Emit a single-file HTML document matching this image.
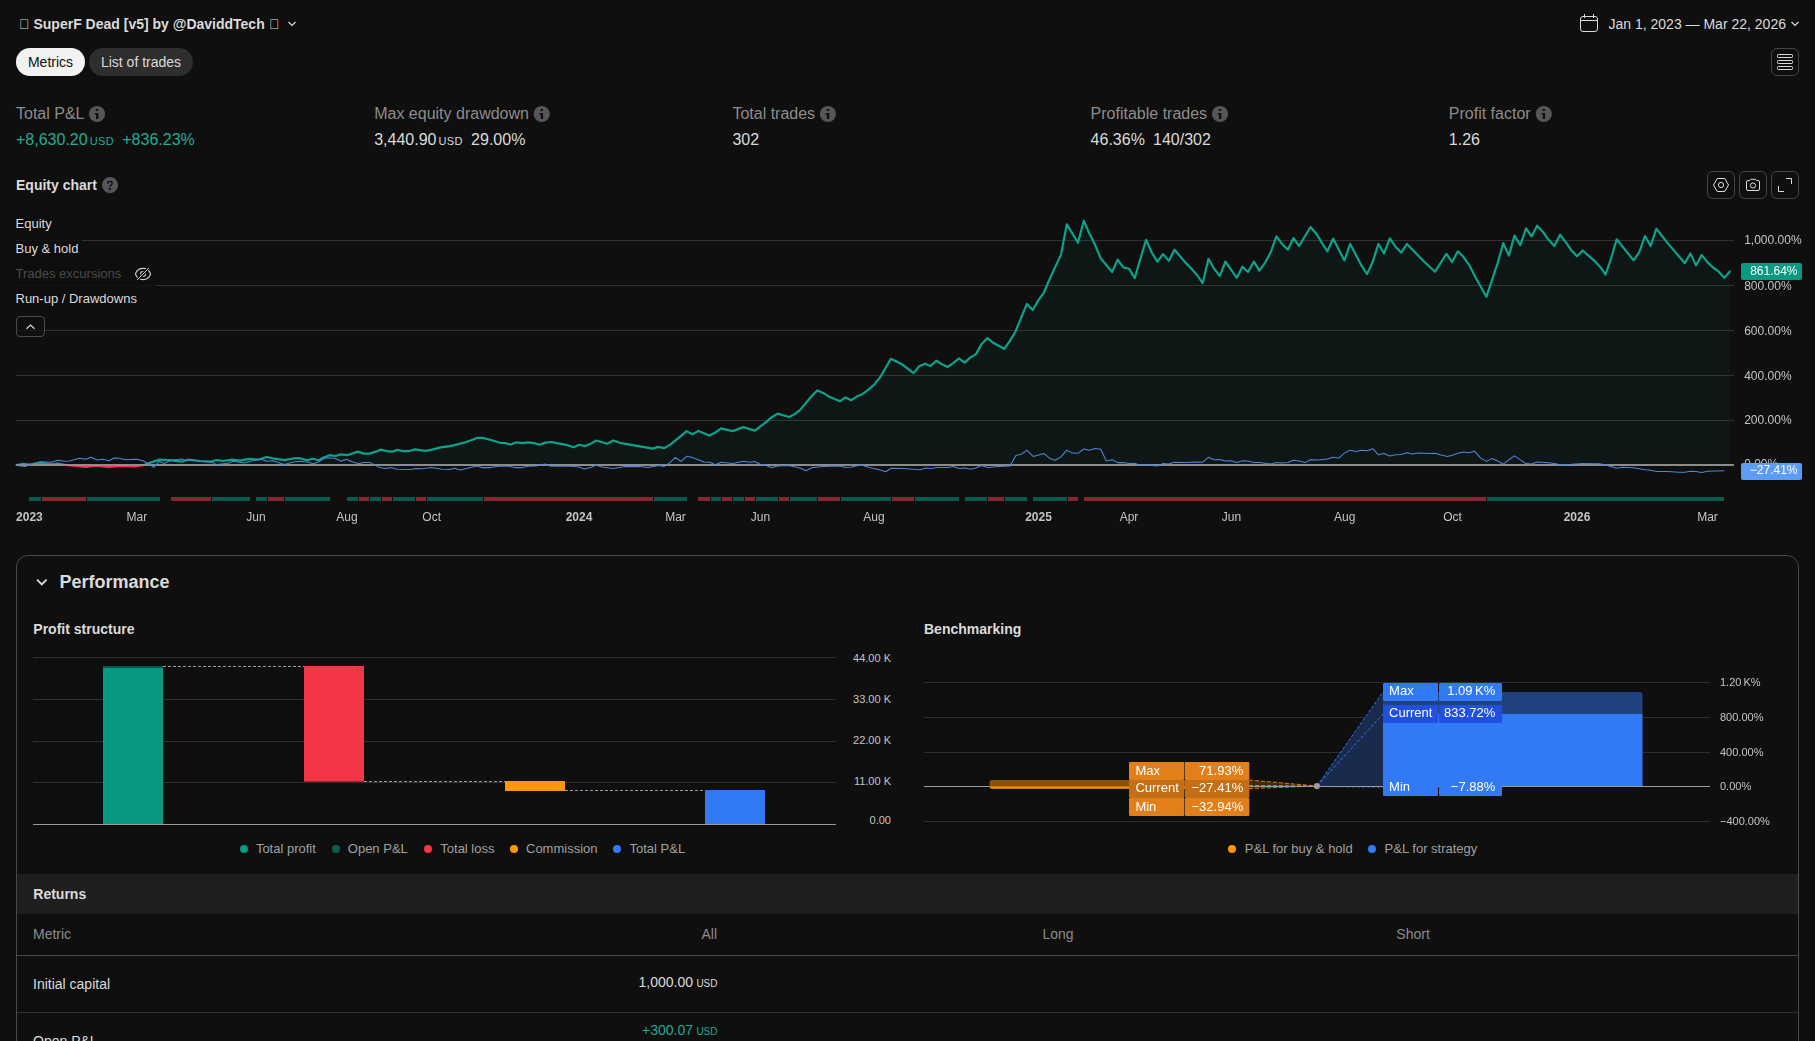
<!DOCTYPE html>
<html><head><meta charset="utf-8"><title>Strategy report</title>
<style>
html,body{margin:0;padding:0;background:#0f0f0f;}
body{width:1815px;height:1041px;overflow:hidden;position:relative;font-family:"Liberation Sans",sans-serif;color:#dbdbdb;}
.t{position:absolute;white-space:nowrap;}
.abs{position:absolute;}
.g{position:absolute;left:0;top:0;width:1815px;height:1041px;will-change:transform;}
svg{position:absolute;left:0;top:0;overflow:visible;}
.pill{position:absolute;top:48px;height:28px;border-radius:14px;font-size:14px;line-height:28px;text-align:center;}
.ib{position:absolute;width:26px;height:26px;border:1px solid #434343;border-radius:6px;}
.usd{font-size:11px;margin-left:2px;letter-spacing:0.4px;}
.usd2{font-size:10px;margin-left:3.4px;}
</style></head><body>

<div class="t" style="top:15.0px;font-size:14px;line-height:18px;color:#dbdbdb;font-weight:700;left:19.1px;">&#xE000; SuperF Dead [v5] by @DaviddTech</div>
<div class="t" style="top:15.0px;font-size:14px;line-height:18px;color:#dbdbdb;font-weight:700;left:269px;">&#xE000;</div>
<div class="pill" style="left:16px;width:69px;background:#f2f2f2;color:#0f0f0f;">Metrics</div>
<div class="pill" style="left:89px;width:104px;background:#2e2e2e;color:#dbdbdb;">List of trades</div>
<div class="t" style="top:15.0px;font-size:14px;line-height:18px;color:#dbdbdb;left:1608.5px;">Jan 1, 2023 — Mar 22, 2026</div>
<div class="ib" style="left:1771px;top:48px;"></div>
<svg width="1815" height="1041" viewBox="0 0 1815 1041" fill="none">
<path d="M288.5 22 L292 25.5 L295.5 22" stroke="#dbdbdb" stroke-width="1.2"/>
<path d="M1791.5 22 L1795 25.5 L1798.5 22" stroke="#dbdbdb" stroke-width="1.2"/>
<rect x="1580.5" y="16.5" width="17" height="15" rx="2.5" stroke="#dbdbdb"/>
<path d="M1580.5 20.5H1597.5M1584.5 14V18M1593.5 14V18" stroke="#dbdbdb"/>
<rect x="1777.5" y="54.5" width="15" height="3" rx="0.8" stroke="#dbdbdb"/>
<rect x="1777.5" y="60.5" width="15" height="3" rx="0.8" stroke="#dbdbdb"/>
<rect x="1777.5" y="66.5" width="15" height="3" rx="0.8" stroke="#dbdbdb"/>
<path d="M1713.5 185 L1717.2 178.5 H1724.8 L1728.5 185 L1724.8 191.5 H1717.2 Z" stroke="#dbdbdb" stroke-linejoin="round"/>
<circle cx="1721" cy="185" r="2.6" stroke="#dbdbdb"/>
<path d="M1746.5 182 a1.5 1.5 0 0 1 1.5 -1.5 H1749.6 L1750.6 179.3 H1755.4 L1756.4 180.5 H1758 a1.5 1.5 0 0 1 1.5 1.5 V189 a1.5 1.5 0 0 1 -1.5 1.5 H1748 a1.5 1.5 0 0 1 -1.5 -1.5 Z" stroke="#dbdbdb" stroke-linejoin="round"/>
<circle cx="1753" cy="185.5" r="2.6" stroke="#dbdbdb"/>
<path d="M1786 178.5 H1791.5 V184 M1778.5 186 V191.5 H1784" stroke="#dbdbdb"/>
<circle cx="97.0" cy="113.95" r="8.05" fill="#565656"/>
<rect x="95.85" y="108.90" width="2.4" height="2.05" rx="0.5" fill="#0f0f0f"/>
<path d="M94.80 113.10 H98.35 V119.05 H96.05 V114.45 H94.80 Z" fill="#0f0f0f"/>
<circle cx="541.7" cy="113.95" r="8.05" fill="#565656"/>
<rect x="540.55" y="108.90" width="2.4" height="2.05" rx="0.5" fill="#0f0f0f"/>
<path d="M539.50 113.10 H543.05 V119.05 H540.75 V114.45 H539.50 Z" fill="#0f0f0f"/>
<circle cx="827.9" cy="113.95" r="8.05" fill="#565656"/>
<rect x="826.75" y="108.90" width="2.4" height="2.05" rx="0.5" fill="#0f0f0f"/>
<path d="M825.70 113.10 H829.25 V119.05 H826.95 V114.45 H825.70 Z" fill="#0f0f0f"/>
<circle cx="1220" cy="113.95" r="8.05" fill="#565656"/>
<rect x="1218.85" y="108.90" width="2.4" height="2.05" rx="0.5" fill="#0f0f0f"/>
<path d="M1217.80 113.10 H1221.35 V119.05 H1219.05 V114.45 H1217.80 Z" fill="#0f0f0f"/>
<circle cx="1543.8" cy="113.95" r="8.05" fill="#565656"/>
<rect x="1542.65" y="108.90" width="2.4" height="2.05" rx="0.5" fill="#0f0f0f"/>
<path d="M1541.60 113.10 H1545.15 V119.05 H1542.85 V114.45 H1541.60 Z" fill="#0f0f0f"/>
<circle cx="110" cy="185.1" r="8.05" fill="#565656"/>
<path d="M107.7 183.7 C107.7 182 108.7 181.4 110 181.4 C111.4 181.4 112.2 182.1 112.2 183.2 C112.2 184.4 111.4 184.8 110.7 185.5 C110 186.1 109.85 186.5 109.85 187.1" stroke="#0f0f0f" stroke-width="1.35" fill="none"/>
<rect x="108.8" y="188.1" width="2.1" height="1.9" rx="0.3" fill="#0f0f0f"/>
</svg>
<div class="t" style="top:103.5px;font-size:16px;line-height:20px;color:#8c8c8c;left:16px;">Total P&amp;L</div>
<div class="t" style="top:103.5px;font-size:16px;line-height:20px;color:#8c8c8c;left:374.2px;">Max equity drawdown</div>
<div class="t" style="top:103.5px;font-size:16px;line-height:20px;color:#8c8c8c;left:732.4px;">Total trades</div>
<div class="t" style="top:103.5px;font-size:16px;line-height:20px;color:#8c8c8c;left:1090.6px;">Profitable trades</div>
<div class="t" style="top:103.5px;font-size:16px;line-height:20px;color:#8c8c8c;left:1448.8px;">Profit factor</div>
<div class="t" style="top:130.0px;font-size:16px;line-height:20px;color:#22ab94;left:16px;">+8,630.20<span class="usd">USD</span><span style="margin-left:8.2px">+836.23%</span></div>
<div class="t" style="top:130.0px;font-size:16px;line-height:20px;color:#dbdbdb;left:374.2px;">3,440.90<span class="usd">USD</span><span style="margin-left:8.2px">29.00%</span></div>
<div class="t" style="top:130.0px;font-size:16px;line-height:20px;color:#dbdbdb;left:732.4px;">302</div>
<div class="t" style="top:130.0px;font-size:16px;line-height:20px;color:#dbdbdb;left:1090.6px;">46.36%<span style="margin-left:8.2px">140/302</span></div>
<div class="t" style="top:130.0px;font-size:16px;line-height:20px;color:#dbdbdb;left:1448.8px;">1.26</div>
<div class="t" style="top:176.0px;font-size:14px;line-height:18px;color:#dbdbdb;font-weight:700;left:16px;">Equity chart</div>
<div class="ib" style="left:1707px;top:171px;"></div>
<div class="ib" style="left:1739px;top:171px;"></div>
<div class="ib" style="left:1771px;top:171px;"></div>
<svg width="1815" height="1041" viewBox="0 0 1815 1041">
<rect x="16" y="240" width="1718" height="1" fill="#313131"/>
<rect x="16" y="285" width="1718" height="1" fill="#313131"/>
<rect x="16" y="330" width="1718" height="1" fill="#313131"/>
<rect x="16" y="375" width="1718" height="1" fill="#313131"/>
<rect x="16" y="420" width="1718" height="1" fill="#313131"/>
<path d="M16.6,465 L16.6,465 L23.2,463.8 L29.8,464.6 L39.8,462.6 L51.3,464.3 L57.9,463.5 L66,465 L86,466.8 L96,465.6 L109,466.8 L122,466 L135,466.4 L143.9,465 L150.5,462.6 L158.8,459.7 L168.7,460.2 L181.9,461.7 L187.7,459.7 L200,461 L210.8,461.7 L216.6,460 L223.2,461 L232.3,459.7 L239.8,460.7 L249.7,458.8 L257.9,459.7 L266.7,457 L274.5,458.7 L284.4,460.2 L295.9,458 L300,458.3 L307.4,460.2 L312.4,458.7 L319,460.2 L323.1,457.7 L329.8,455.2 L335.5,456 L340.5,454.4 L347.1,455.2 L357.9,451.6 L363.6,453.6 L369.4,453.6 L375.2,451.9 L381,449.6 L386.8,451.2 L391.7,451.7 L397.5,449.9 L403.3,451.2 L408.3,451.2 L414.9,449.4 L420,450.1 L425.6,450.9 L432.2,449.6 L440.5,447.4 L449.6,446.1 L454.5,445.1 L465.3,442.3 L471.1,440.2 L476.9,437.9 L482.6,437.9 L490.1,439.8 L500,442.8 L505,443.1 L510.7,444.5 L516.5,442.3 L522.3,443.1 L528.1,442.3 L534,443.1 L539.7,444.8 L545.5,442.6 L551.2,442 L557,443.1 L566.1,444.8 L573.6,447.3 L579.3,444.8 L585.1,446.1 L590,444.1 L596.3,440.5 L607.4,443.8 L613.1,440.5 L619.8,442.8 L652.8,448.6 L658.1,446.9 L664.4,448.1 L671,444.1 L686.7,431.1 L692.5,434.4 L698.3,430.9 L709.5,435.4 L715.3,432.6 L721.1,428.4 L732.5,431.1 L743.4,427.1 L754.8,430.6 L766,422.1 L771.8,417.2 L777.6,413.6 L789.2,417 L795,413.9 L799.9,410.1 L811.5,396.2 L817.4,390.4 L823.1,392.9 L828.8,396.5 L839.9,401.3 L845.5,397.4 L851.2,400.3 L857.4,396.2 L862.7,393.9 L868.5,389.6 L874.3,384.6 L880.1,377.2 L890.9,358.8 L902.3,364.5 L913.6,373.1 L919.2,366.2 L925,363.7 L930.6,365.9 L936.2,360.7 L942,364.2 L947.6,367 L953.2,363.2 L959,358.4 L964.6,362.6 L970.4,357.4 L976,354.1 L981.7,343.9 L987.4,338.1 L993.1,342.7 L1004.3,348.8 L1010.1,340.6 L1015.5,331.5 L1021.3,317.4 L1026.9,303.9 L1032.7,310 L1038.3,300.4 L1044,292.3 L1049.8,278.6 L1061,254.6 L1066.8,224.4 L1078,242.7 L1083.8,220.7 L1089.4,233.6 L1095,244.7 L1100.7,258.3 L1112.1,272 L1117.7,259.6 L1123.3,267.4 L1129.1,268.8 L1134.7,278.1 L1146.1,239.8 L1151.7,252.5 L1157.4,261.6 L1163.1,254.1 L1168.8,260.9 L1174.5,249.7 L1185.7,262.9 L1191.5,268.7 L1197.3,275.3 L1202.7,283.1 L1208.5,258.8 L1214.1,268.7 L1219.8,276.1 L1225.4,261.6 L1231.2,269.8 L1236.8,277.8 L1242.4,266.7 L1248,272 L1253.8,261.7 L1259.4,270.7 L1265.2,262.6 L1270.8,252.1 L1276.4,236.4 L1282.2,244.2 L1287.9,249.7 L1293.5,238.1 L1299.1,246 L1310.5,227 L1316.9,234.5 L1321.7,242.6 L1327.4,251.3 L1333.1,238.6 L1344.4,260.4 L1350.2,243.9 L1361.4,265.4 L1367,274.1 L1372.8,261.7 L1378.4,243.9 L1384,253.5 L1389.8,238.4 L1395.5,246.7 L1401.1,252.6 L1406.9,244 L1423.7,261.2 L1429.5,266.7 L1435.1,271.7 L1446.4,253.8 L1452.1,262.1 L1457.8,251.3 L1463.4,256.8 L1469.9,266.2 L1475.7,277.8 L1486.4,296.8 L1497.7,262.9 L1503.3,243.1 L1508.9,255.5 L1514.5,235.6 L1520.3,245.2 L1526,228.5 L1531.6,236.4 L1537.2,225.7 L1543,232 L1548.6,239.8 L1554.4,246 L1560,234.8 L1565.8,242.2 L1571.2,250.2 L1577,256.3 L1582.6,250.5 L1593.9,260.4 L1599.7,266.2 L1605.5,274.5 L1611.1,258.4 L1616.7,239.3 L1633.6,260.4 L1639.3,252.1 L1645,236 L1650.6,246 L1656.4,228.7 L1667.6,243.1 L1684.8,263.2 L1690.4,253.5 L1696,265.4 L1701.7,255 L1707.4,262.1 L1713.1,267.5 L1718.7,271.7 L1724.3,277.8 L1729.9,271.5 L1729.9,465 Z" fill="rgba(8,153,129,0.06)"/>
<clipPath id="ca"><rect x="0" y="200" width="1815" height="265"/></clipPath><clipPath id="cb"><rect x="0" y="465" width="1815" height="40"/></clipPath>
<polyline points="16.6,465 23.2,463.8 29.8,464.6 39.8,462.6 51.3,464.3 57.9,463.5 66,465 86,466.8 96,465.6 109,466.8 122,466 135,466.4 143.9,465 150.5,462.6 158.8,459.7 168.7,460.2 181.9,461.7 187.7,459.7 200,461 210.8,461.7 216.6,460 223.2,461 232.3,459.7 239.8,460.7 249.7,458.8 257.9,459.7 266.7,457 274.5,458.7 284.4,460.2 295.9,458 300,458.3 307.4,460.2 312.4,458.7 319,460.2 323.1,457.7 329.8,455.2 335.5,456 340.5,454.4 347.1,455.2 357.9,451.6 363.6,453.6 369.4,453.6 375.2,451.9 381,449.6 386.8,451.2 391.7,451.7 397.5,449.9 403.3,451.2 408.3,451.2 414.9,449.4 420,450.1 425.6,450.9 432.2,449.6 440.5,447.4 449.6,446.1 454.5,445.1 465.3,442.3 471.1,440.2 476.9,437.9 482.6,437.9 490.1,439.8 500,442.8 505,443.1 510.7,444.5 516.5,442.3 522.3,443.1 528.1,442.3 534,443.1 539.7,444.8 545.5,442.6 551.2,442 557,443.1 566.1,444.8 573.6,447.3 579.3,444.8 585.1,446.1 590,444.1 596.3,440.5 607.4,443.8 613.1,440.5 619.8,442.8 652.8,448.6 658.1,446.9 664.4,448.1 671,444.1 686.7,431.1 692.5,434.4 698.3,430.9 709.5,435.4 715.3,432.6 721.1,428.4 732.5,431.1 743.4,427.1 754.8,430.6 766,422.1 771.8,417.2 777.6,413.6 789.2,417 795,413.9 799.9,410.1 811.5,396.2 817.4,390.4 823.1,392.9 828.8,396.5 839.9,401.3 845.5,397.4 851.2,400.3 857.4,396.2 862.7,393.9 868.5,389.6 874.3,384.6 880.1,377.2 890.9,358.8 902.3,364.5 913.6,373.1 919.2,366.2 925,363.7 930.6,365.9 936.2,360.7 942,364.2 947.6,367 953.2,363.2 959,358.4 964.6,362.6 970.4,357.4 976,354.1 981.7,343.9 987.4,338.1 993.1,342.7 1004.3,348.8 1010.1,340.6 1015.5,331.5 1021.3,317.4 1026.9,303.9 1032.7,310 1038.3,300.4 1044,292.3 1049.8,278.6 1061,254.6 1066.8,224.4 1078,242.7 1083.8,220.7 1089.4,233.6 1095,244.7 1100.7,258.3 1112.1,272 1117.7,259.6 1123.3,267.4 1129.1,268.8 1134.7,278.1 1146.1,239.8 1151.7,252.5 1157.4,261.6 1163.1,254.1 1168.8,260.9 1174.5,249.7 1185.7,262.9 1191.5,268.7 1197.3,275.3 1202.7,283.1 1208.5,258.8 1214.1,268.7 1219.8,276.1 1225.4,261.6 1231.2,269.8 1236.8,277.8 1242.4,266.7 1248,272 1253.8,261.7 1259.4,270.7 1265.2,262.6 1270.8,252.1 1276.4,236.4 1282.2,244.2 1287.9,249.7 1293.5,238.1 1299.1,246 1310.5,227 1316.9,234.5 1321.7,242.6 1327.4,251.3 1333.1,238.6 1344.4,260.4 1350.2,243.9 1361.4,265.4 1367,274.1 1372.8,261.7 1378.4,243.9 1384,253.5 1389.8,238.4 1395.5,246.7 1401.1,252.6 1406.9,244 1423.7,261.2 1429.5,266.7 1435.1,271.7 1446.4,253.8 1452.1,262.1 1457.8,251.3 1463.4,256.8 1469.9,266.2 1475.7,277.8 1486.4,296.8 1497.7,262.9 1503.3,243.1 1508.9,255.5 1514.5,235.6 1520.3,245.2 1526,228.5 1531.6,236.4 1537.2,225.7 1543,232 1548.6,239.8 1554.4,246 1560,234.8 1565.8,242.2 1571.2,250.2 1577,256.3 1582.6,250.5 1593.9,260.4 1599.7,266.2 1605.5,274.5 1611.1,258.4 1616.7,239.3 1633.6,260.4 1639.3,252.1 1645,236 1650.6,246 1656.4,228.7 1667.6,243.1 1684.8,263.2 1690.4,253.5 1696,265.4 1701.7,255 1707.4,262.1 1713.1,267.5 1718.7,271.7 1724.3,277.8 1729.9,271.5" fill="none" stroke="#0ba38a" stroke-width="2.2" stroke-linejoin="round" stroke-linecap="round" clip-path="url(#ca)"/>
<polyline points="16.6,465 23.2,463.8 29.8,464.6 39.8,462.6 51.3,464.3 57.9,463.5 66,465 86,466.8 96,465.6 109,466.8 122,466 135,466.4 143.9,465 150.5,462.6 158.8,459.7 168.7,460.2 181.9,461.7 187.7,459.7 200,461 210.8,461.7 216.6,460 223.2,461 232.3,459.7 239.8,460.7 249.7,458.8 257.9,459.7 266.7,457 274.5,458.7 284.4,460.2 295.9,458 300,458.3 307.4,460.2 312.4,458.7 319,460.2 323.1,457.7 329.8,455.2 335.5,456 340.5,454.4 347.1,455.2 357.9,451.6 363.6,453.6 369.4,453.6 375.2,451.9 381,449.6 386.8,451.2 391.7,451.7 397.5,449.9 403.3,451.2 408.3,451.2 414.9,449.4 420,450.1 425.6,450.9 432.2,449.6 440.5,447.4 449.6,446.1 454.5,445.1 465.3,442.3 471.1,440.2 476.9,437.9 482.6,437.9 490.1,439.8 500,442.8 505,443.1 510.7,444.5 516.5,442.3 522.3,443.1 528.1,442.3 534,443.1 539.7,444.8 545.5,442.6 551.2,442 557,443.1 566.1,444.8 573.6,447.3 579.3,444.8 585.1,446.1 590,444.1 596.3,440.5 607.4,443.8 613.1,440.5 619.8,442.8 652.8,448.6 658.1,446.9 664.4,448.1 671,444.1 686.7,431.1 692.5,434.4 698.3,430.9 709.5,435.4 715.3,432.6 721.1,428.4 732.5,431.1 743.4,427.1 754.8,430.6 766,422.1 771.8,417.2 777.6,413.6 789.2,417 795,413.9 799.9,410.1 811.5,396.2 817.4,390.4 823.1,392.9 828.8,396.5 839.9,401.3 845.5,397.4 851.2,400.3 857.4,396.2 862.7,393.9 868.5,389.6 874.3,384.6 880.1,377.2 890.9,358.8 902.3,364.5 913.6,373.1 919.2,366.2 925,363.7 930.6,365.9 936.2,360.7 942,364.2 947.6,367 953.2,363.2 959,358.4 964.6,362.6 970.4,357.4 976,354.1 981.7,343.9 987.4,338.1 993.1,342.7 1004.3,348.8 1010.1,340.6 1015.5,331.5 1021.3,317.4 1026.9,303.9 1032.7,310 1038.3,300.4 1044,292.3 1049.8,278.6 1061,254.6 1066.8,224.4 1078,242.7 1083.8,220.7 1089.4,233.6 1095,244.7 1100.7,258.3 1112.1,272 1117.7,259.6 1123.3,267.4 1129.1,268.8 1134.7,278.1 1146.1,239.8 1151.7,252.5 1157.4,261.6 1163.1,254.1 1168.8,260.9 1174.5,249.7 1185.7,262.9 1191.5,268.7 1197.3,275.3 1202.7,283.1 1208.5,258.8 1214.1,268.7 1219.8,276.1 1225.4,261.6 1231.2,269.8 1236.8,277.8 1242.4,266.7 1248,272 1253.8,261.7 1259.4,270.7 1265.2,262.6 1270.8,252.1 1276.4,236.4 1282.2,244.2 1287.9,249.7 1293.5,238.1 1299.1,246 1310.5,227 1316.9,234.5 1321.7,242.6 1327.4,251.3 1333.1,238.6 1344.4,260.4 1350.2,243.9 1361.4,265.4 1367,274.1 1372.8,261.7 1378.4,243.9 1384,253.5 1389.8,238.4 1395.5,246.7 1401.1,252.6 1406.9,244 1423.7,261.2 1429.5,266.7 1435.1,271.7 1446.4,253.8 1452.1,262.1 1457.8,251.3 1463.4,256.8 1469.9,266.2 1475.7,277.8 1486.4,296.8 1497.7,262.9 1503.3,243.1 1508.9,255.5 1514.5,235.6 1520.3,245.2 1526,228.5 1531.6,236.4 1537.2,225.7 1543,232 1548.6,239.8 1554.4,246 1560,234.8 1565.8,242.2 1571.2,250.2 1577,256.3 1582.6,250.5 1593.9,260.4 1599.7,266.2 1605.5,274.5 1611.1,258.4 1616.7,239.3 1633.6,260.4 1639.3,252.1 1645,236 1650.6,246 1656.4,228.7 1667.6,243.1 1684.8,263.2 1690.4,253.5 1696,265.4 1701.7,255 1707.4,262.1 1713.1,267.5 1718.7,271.7 1724.3,277.8 1729.9,271.5" fill="none" stroke="#f23645" stroke-width="2.2" stroke-linejoin="round" stroke-linecap="round" clip-path="url(#cb)"/>
<rect x="16" y="464" width="1718" height="2" fill="#8c8c8c"/>
<polyline points="16.6,465.5 24.9,466.6 31.5,464.3 41.4,461.7 51.3,462.3 57.9,460.2 64.5,461.3 69.5,461 79.4,458.3 86,459.3 91,457.2 97.6,460 102.6,459.3 109.2,460.7 114,458 119.1,458.2 125.7,459.8 137.3,459.3 143.9,461.3 150.5,465 153.8,467.3 158.8,461.3 164.5,463.6 170.3,460.2 181.9,459 185.2,460.5 193.5,460 200,461.3 211.7,462.1 216.6,464.6 228.2,463.3 233.1,461.3 244.7,463 251.3,461 261.2,459.3 266.2,461.3 272.8,460.8 284.4,464.6 294.3,461.7 300,461.3 307.4,462.1 313.2,463.8 318.2,462.1 324.8,457.7 334.7,458.3 341.3,461.3 346.3,459.3 352.9,462.1 358.7,463.8 363.6,462.5 370.2,462.6 379.3,467.4 386,468.4 390.9,467.6 397.5,469.3 410.7,469.6 415.7,468.4 422.3,468.8 431.4,467.6 442.1,469.3 449.6,469.6 454.5,468.3 460.3,469.9 468.6,467.9 476.9,466 481.8,467.6 490.1,467.6 500,466 508.3,466.3 514.9,467.6 522.3,467.6 528.1,466.3 536.4,466 544.6,464 551.2,466.3 571.1,466.3 579.3,467.1 584.3,468.9 590.9,467.4 596.3,465.1 601.6,466.9 613.1,468.6 624.7,466.6 639.6,466.6 647.9,467.4 658.6,465.6 664.4,466.4 669.3,463.1 675.5,457.4 680.9,461.5 687,456.2 692.5,457.4 704,462 709.8,462.3 715.3,464.8 721.1,462.3 732.5,463.5 743.4,461.2 749.5,462.3 754.8,461.5 760.2,464.3 766,465.6 771.8,467.8 777.6,466 788.3,465.6 799.9,468.1 806,470.7 811.5,467.8 823.1,466.6 839.6,466 845.5,467.6 851.2,467.3 861,464.8 868.5,467.3 880.1,470.1 885.8,471.7 891.2,468.2 903.1,468.5 919.7,469.8 925.5,467.9 931.2,468.5 937,467.4 947.8,467.5 953.6,466.4 959.3,468.5 965.1,467.9 970.6,469.2 975.9,467.9 981.7,465.5 987.4,467.4 999,466.4 1010.1,465.9 1015.9,455.6 1021.3,454.3 1026.9,450.2 1033.1,456.4 1044,453.6 1049.8,458.4 1055.2,460.2 1061,456.9 1066.8,450.2 1072.6,453.1 1078,453.3 1083.8,449 1089.4,450.3 1095,448.5 1100.7,449.3 1106.4,460.9 1112.1,459.8 1117.7,462.6 1123.3,462.6 1129.1,463.6 1134.7,463.2 1140.3,465.5 1146.1,464.7 1157.4,466 1163.1,463.6 1168.8,463.9 1174.5,462.2 1185.7,462.6 1197.3,461.9 1202.7,462.2 1208.5,457.3 1214.1,459.8 1219.8,459.4 1225.4,460.9 1231.2,460.7 1236.8,462.4 1242.4,460.7 1248,461.1 1253.8,462.6 1259.4,462.4 1270.8,464 1276.4,462.4 1282.2,463.1 1287.9,462.4 1293.5,460.2 1299.1,461.1 1304.9,462.6 1310.5,459.8 1316.9,460.1 1327.4,459.1 1333.1,457.3 1338.6,458.1 1344.4,453.1 1350.2,450.3 1355.8,451.5 1361.4,450.3 1367,450.8 1372.8,448.7 1378.4,454.8 1384,453.5 1389.8,456.1 1395.5,454.8 1401.1,454.5 1406.9,452.8 1412.5,454 1417.9,453 1429.5,453.6 1435.1,453.3 1441.1,455.1 1447.4,456.4 1453.1,455.1 1458.8,453.1 1463.6,452.1 1469.1,452.8 1474.5,451.2 1480.7,458.1 1486.4,461.4 1491.9,458.6 1497.7,460.9 1503.3,464.2 1508.9,459.8 1514.5,455.9 1526,463.6 1531.6,464 1537.2,462.1 1548.6,462.7 1554.4,463.6 1560,464.7 1571.2,464.2 1582.6,463.4 1599.7,463.7 1605.5,465 1616.7,468.3 1622.3,467.2 1633.6,467.7 1645,469.7 1650.6,470.2 1656.4,471.5 1667.6,471.5 1679,472.3 1684.8,472.3 1690.4,471.3 1696,471.5 1701.7,472.5 1707.4,471.3 1724.3,470.8" fill="none" stroke="#4a88de" stroke-width="1.05" stroke-linejoin="round"/>
<rect x="29" y="497" width="12" height="4" fill="#0b5a4e"/>
<rect x="42" y="497" width="44" height="4" fill="#86262e"/>
<rect x="87" y="497" width="73" height="4" fill="#0b5a4e"/>
<rect x="171" y="497" width="40" height="4" fill="#86262e"/>
<rect x="212" y="497" width="38" height="4" fill="#0b5a4e"/>
<rect x="256" y="497" width="11" height="4" fill="#0b5a4e"/>
<rect x="268" y="497" width="16" height="4" fill="#86262e"/>
<rect x="285" y="497" width="45" height="4" fill="#0b5a4e"/>
<rect x="347" y="497" width="11" height="4" fill="#0b5a4e"/>
<rect x="359" y="497" width="10" height="4" fill="#86262e"/>
<rect x="370" y="497" width="11" height="4" fill="#0b5a4e"/>
<rect x="382" y="497" width="10" height="4" fill="#86262e"/>
<rect x="393" y="497" width="22" height="4" fill="#0b5a4e"/>
<rect x="416" y="497" width="10" height="4" fill="#86262e"/>
<rect x="427" y="497" width="56" height="4" fill="#0b5a4e"/>
<rect x="484" y="497" width="169" height="4" fill="#86262e"/>
<rect x="654" y="497" width="33" height="4" fill="#0b5a4e"/>
<rect x="698" y="497" width="12" height="4" fill="#86262e"/>
<rect x="711" y="497" width="10" height="4" fill="#0b5a4e"/>
<rect x="722" y="497" width="10" height="4" fill="#86262e"/>
<rect x="733" y="497" width="11" height="4" fill="#0b5a4e"/>
<rect x="745" y="497" width="10" height="4" fill="#86262e"/>
<rect x="756" y="497" width="22" height="4" fill="#0b5a4e"/>
<rect x="779" y="497" width="10" height="4" fill="#86262e"/>
<rect x="790" y="497" width="27" height="4" fill="#0b5a4e"/>
<rect x="818" y="497" width="22" height="4" fill="#86262e"/>
<rect x="841" y="497" width="50" height="4" fill="#0b5a4e"/>
<rect x="892" y="497" width="22" height="4" fill="#86262e"/>
<rect x="915" y="497" width="44" height="4" fill="#0b5a4e"/>
<rect x="965" y="497" width="22" height="4" fill="#0b5a4e"/>
<rect x="988" y="497" width="16" height="4" fill="#86262e"/>
<rect x="1005" y="497" width="22" height="4" fill="#0b5a4e"/>
<rect x="1033" y="497" width="34" height="4" fill="#0b5a4e"/>
<rect x="1068" y="497" width="10" height="4" fill="#86262e"/>
<rect x="1084" y="497" width="402" height="4" fill="#86262e"/>
<rect x="1487" y="497" width="237" height="4" fill="#0b5a4e"/>
</svg>
<div class="abs" style="left:11.5px;top:211.5px;width:43.0px;height:24px;background:rgba(15,15,15,0.82);border-radius:2px;"></div>
<div class="t" style="top:215.5px;font-size:13px;line-height:16px;color:#dbdbdb;left:15.5px;">Equity</div>
<div class="abs" style="left:11.5px;top:236.5px;width:70.5px;height:24px;background:rgba(15,15,15,0.82);border-radius:2px;"></div>
<div class="t" style="top:240.5px;font-size:13px;line-height:16px;color:#dbdbdb;left:15.5px;">Buy &amp; hold</div>
<div class="abs" style="left:11.5px;top:261.5px;width:145.5px;height:24px;background:rgba(15,15,15,0.82);border-radius:2px;"></div>
<div class="t" style="top:265.5px;font-size:13px;line-height:16px;color:#4a4a4a;left:15.5px;">Trades excursions</div>
<div class="abs" style="left:11.5px;top:286.5px;width:129.0px;height:24px;background:rgba(15,15,15,0.82);border-radius:2px;"></div>
<div class="t" style="top:290.5px;font-size:13px;line-height:16px;color:#dbdbdb;left:15.5px;">Run-up / Drawdowns</div>
<div class="abs" style="left:16px;top:316px;width:27px;height:19px;border:1px solid #4a4a4a;border-radius:4px;background:rgba(15,15,15,0.6)"></div>
<svg width="1815" height="1041" viewBox="0 0 1815 1041" fill="none">
<path d="M135.4 274 C136.6 270.4 139.8 268.4 143 268.4 C146.2 268.4 149.4 270.4 150.6 274 C149.4 277.6 146.2 279.6 143 279.6 C139.8 279.6 136.6 277.6 135.4 274 Z" stroke="#c8c8c8" stroke-width="1.1"/>
<circle cx="143" cy="274" r="2.5" stroke="#c8c8c8" stroke-width="1.1"/>
<path d="M137.3 280 L148.7 268" stroke="#0f0f0f" stroke-width="3"/>
<path d="M137.1 280 L148.9 268" stroke="#c8c8c8" stroke-width="1"/>
<path d="M26.5 328.8 L30.5 325 L34.5 328.8" stroke="#dbdbdb" stroke-width="1.2"/>
<path d="M37 579.6 L41.8 584.4 L46.6 579.6" stroke="#dbdbdb" stroke-width="1.8"/>
</svg>
<div class="abs" style="left:16px;top:555px;width:1781px;height:520px;border:1px solid #4a4a4a;border-radius:12px;"></div>
<div class="t" style="top:570.5px;font-size:18px;line-height:22px;color:#dbdbdb;font-weight:700;left:59.4px;">Performance</div>
<div class="t" style="top:619.5px;font-size:14px;line-height:18px;color:#dbdbdb;font-weight:700;left:33.3px;">Profit structure</div>
<div class="t" style="top:619.5px;font-size:14px;line-height:18px;color:#dbdbdb;font-weight:700;left:924px;">Benchmarking</div>
<svg width="1815" height="1041" viewBox="0 0 1815 1041">
<rect x="33" y="657" width="803" height="1" fill="#2e2e2e"/>
<rect x="33" y="699" width="803" height="1" fill="#2e2e2e"/>
<rect x="33" y="741" width="803" height="1" fill="#2e2e2e"/>
<rect x="33" y="782" width="803" height="1" fill="#2e2e2e"/>
<rect x="33" y="824" width="803" height="1" fill="#9a9a9a"/>
<rect x="103" y="666" width="60" height="158" fill="#089981"/>
<rect x="103" y="666" width="60" height="2" fill="#055a4c"/>
<rect x="304" y="666" width="60" height="115.6" fill="#f23645"/>
<rect x="505" y="781" width="60" height="10" fill="#ff9800"/>
<rect x="705" y="790" width="60" height="34" fill="#3179f5"/>
<line x1="163" y1="666.5" x2="304" y2="666.5" stroke="#989898" stroke-width="1" stroke-dasharray="3 2"/>
<line x1="364" y1="781.5" x2="505" y2="781.5" stroke="#989898" stroke-width="1" stroke-dasharray="3 2"/>
<line x1="565" y1="790.5" x2="705" y2="790.5" stroke="#989898" stroke-width="1" stroke-dasharray="3 2"/>
<rect x="924" y="682" width="786" height="1" fill="#2e2e2e"/>
<rect x="924" y="717" width="786" height="1" fill="#2e2e2e"/>
<rect x="924" y="752" width="786" height="1" fill="#2e2e2e"/>
<rect x="924" y="821" width="786" height="1" fill="#2e2e2e"/>
<path d="M1249 780 L1317 786 L1249 788.6 Z" fill="rgba(255,152,0,0.2)"/>
<line x1="1249" y1="780" x2="1317" y2="786" stroke="#f59a00" stroke-width="0.8" stroke-dasharray="4 2"/>
<line x1="1249" y1="785.4" x2="1317" y2="786" stroke="#f59a00" stroke-width="0.8" stroke-dasharray="4 2"/>
<line x1="1249" y1="788.6" x2="1317" y2="786" stroke="#f59a00" stroke-width="0.8" stroke-dasharray="4 2"/>
<path d="M1317 786 L1383 692 V787 Z" fill="#192a4d"/>
<line x1="1317" y1="786" x2="1383" y2="692" stroke="#3179f5" stroke-width="1" stroke-dasharray="3 2"/>
<line x1="1317" y1="786" x2="1383" y2="714" stroke="#3179f5" stroke-width="1" stroke-dasharray="3 2"/>
<line x1="1317" y1="786.5" x2="1383" y2="787.2" stroke="#3179f5" stroke-width="0.8" stroke-dasharray="3 2"/>
<rect x="924" y="786" width="786" height="1" fill="#9a9a9a"/>
<rect x="989.5" y="780" width="200" height="9" rx="3" fill="#8a5208"/>
<path d="M989.5 786.5 H1190 V788.6 H992 A2.5 2.5 0 0 1 989.5 786.5 Z" fill="#ff9800"/>
<path d="M1383 692 H1639.5 A3 3 0 0 1 1642.5 695 V714 H1383 Z" fill="#20427e"/>
<rect x="1383" y="714" width="259.5" height="72" fill="#3179f5"/>
<circle cx="1316.9" cy="786.1" r="3.1" fill="#9e9e9e"/>
<rect x="1129" y="762" width="55.3" height="18" rx="1.2" fill="#e37f1a"/>
<rect x="1184.9" y="762" width="64.4" height="18" rx="1.2" fill="#e37f1a"/>
<rect x="1129" y="780" width="55.3" height="18" rx="1.2" fill="#c46e15"/>
<rect x="1184.9" y="780" width="64.4" height="18" rx="1.2" fill="#c46e15"/>
<rect x="1129" y="798" width="55.3" height="18" rx="1.2" fill="#e37f1a"/>
<rect x="1184.9" y="798" width="64.4" height="18" rx="1.2" fill="#e37f1a"/>
<rect x="1383" y="683" width="55.0" height="18" rx="1.2" fill="#3179f5"/>
<rect x="1439" y="683" width="63.0" height="18" rx="1.2" fill="#3179f5"/>
<rect x="1383" y="705" width="55.0" height="18" rx="1.2" fill="#2050e0"/>
<rect x="1439" y="705" width="63.0" height="18" rx="1.2" fill="#2050e0"/>
<rect x="1383" y="778" width="55.0" height="18" rx="1.2" fill="#3179f5"/>
<rect x="1439" y="778" width="63.0" height="18" rx="1.2" fill="#3179f5"/>
</svg>
<div class="abs" style="left:239.7px;top:844.7px;width:8px;height:8px;border-radius:4px;background:#089981"></div>
<div class="t" style="top:840.5px;font-size:13px;line-height:16px;color:#a0a0a0;left:255.9px;">Total profit</div>
<div class="abs" style="left:331.6px;top:844.7px;width:8px;height:8px;border-radius:4px;background:#06604f"></div>
<div class="t" style="top:840.5px;font-size:13px;line-height:16px;color:#a0a0a0;left:347.8px;">Open P&amp;L</div>
<div class="abs" style="left:423.8px;top:844.7px;width:8px;height:8px;border-radius:4px;background:#f23645"></div>
<div class="t" style="top:840.5px;font-size:13px;line-height:16px;color:#a0a0a0;left:440.3px;">Total loss</div>
<div class="abs" style="left:509.79999999999995px;top:844.7px;width:8px;height:8px;border-radius:4px;background:#ff9800"></div>
<div class="t" style="top:840.5px;font-size:13px;line-height:16px;color:#a0a0a0;left:526px;">Commission</div>
<div class="abs" style="left:612.8px;top:844.7px;width:8px;height:8px;border-radius:4px;background:#3179f5"></div>
<div class="t" style="top:840.5px;font-size:13px;line-height:16px;color:#a0a0a0;left:629.5px;">Total P&amp;L</div>
<div class="abs" style="left:1227.9px;top:844.7px;width:8px;height:8px;border-radius:4px;background:#ff9800"></div>
<div class="t" style="top:840.5px;font-size:13px;line-height:16px;color:#a0a0a0;left:1244.8px;">P&amp;L for buy &amp; hold</div>
<div class="abs" style="left:1367.8px;top:844.7px;width:8px;height:8px;border-radius:4px;background:#3179f5"></div>
<div class="t" style="top:840.5px;font-size:13px;line-height:16px;color:#a0a0a0;left:1384.6px;">P&amp;L for strategy</div>
<div class="t" style="top:651.0px;font-size:11px;line-height:14px;color:#c4c4c4;right:924px;">44.00 K</div>
<div class="t" style="top:692.0px;font-size:11px;line-height:14px;color:#c4c4c4;right:924px;">33.00 K</div>
<div class="t" style="top:732.5px;font-size:11px;line-height:14px;color:#c4c4c4;right:924px;">22.00 K</div>
<div class="t" style="top:773.5px;font-size:11px;line-height:14px;color:#c4c4c4;right:924px;">11.00 K</div>
<div class="t" style="top:813.0px;font-size:11px;line-height:14px;color:#c4c4c4;right:924px;">0.00</div>
<div class="abs" style="left:17px;top:874px;width:1781px;height:40px;background:#1f1f1f;"></div>
<div class="t" style="top:885.0px;font-size:14px;line-height:18px;color:#dbdbdb;font-weight:700;left:33.3px;">Returns</div>
<div class="t" style="top:925.0px;font-size:14px;line-height:18px;color:#8c8c8c;left:33px;">Metric</div>
<div class="t" style="top:925.0px;font-size:14px;line-height:18px;color:#8c8c8c;right:1098px;">All</div>
<div class="t" style="top:925.0px;font-size:14px;line-height:18px;color:#8c8c8c;right:741.4000000000001px;">Long</div>
<div class="t" style="top:925.0px;font-size:14px;line-height:18px;color:#8c8c8c;right:385.20000000000005px;">Short</div>
<div class="abs" style="left:17px;top:955px;width:1781px;height:1px;background:#4a4a4a;"></div>
<div class="t" style="top:975.0px;font-size:14px;line-height:18px;color:#dbdbdb;left:33px;">Initial capital</div>
<div class="t" style="top:973.0px;font-size:14px;line-height:18px;color:#dbdbdb;right:1097.5px;">1,000.00<span class="usd2">USD</span></div>
<div class="abs" style="left:17px;top:1012px;width:1781px;height:1px;background:#2e2e2e;"></div>
<div class="t" style="top:1032.0px;font-size:14px;line-height:18px;color:#dbdbdb;left:33px;">Open P&amp;L</div>
<div class="t" style="top:1021.0px;font-size:14px;line-height:18px;color:#22ab94;right:1097.5px;">+300.07<span class="usd2">USD</span></div>
<div class="g">
<div class="t" style="top:233.0px;font-size:12px;line-height:15px;color:#c4c4c4;left:1744.2px;">1,000.00%</div>
<div class="t" style="top:279.0px;font-size:12px;line-height:15px;color:#c4c4c4;left:1744.2px;">800.00%</div>
<div class="t" style="top:324.0px;font-size:12px;line-height:15px;color:#c4c4c4;left:1744.2px;">600.00%</div>
<div class="t" style="top:369.0px;font-size:12px;line-height:15px;color:#c4c4c4;left:1744.2px;">400.00%</div>
<div class="t" style="top:413.0px;font-size:12px;line-height:15px;color:#c4c4c4;left:1744.2px;">200.00%</div>
<div class="t" style="top:457.0px;font-size:12px;line-height:15px;color:#c4c4c4;left:1744.2px;">0.00%</div>
<div class="abs" style="left:1741px;top:263px;width:61px;height:17px;border-radius:2px;background:#089981;"></div>
<div class="t" style="top:263.5px;font-size:12px;line-height:15px;color:#fff;right:17.5px;">861.64%</div>
<div class="abs" style="left:1741px;top:463px;width:61px;height:17px;border-radius:2px;background:#5b9cf6;"></div>
<div class="t" style="top:462.5px;font-size:12px;line-height:15px;color:#fff;right:17.5px;">−27.41%</div>
<div class="t" style="top:509.5px;font-size:12px;line-height:15px;color:#c4c4c4;font-weight:700;left:-120.6px;width:300px;text-align:center;">2023</div>
<div class="t" style="top:509.5px;font-size:12px;line-height:15px;color:#c4c4c4;left:-13.199999999999989px;width:300px;text-align:center;">Mar</div>
<div class="t" style="top:509.5px;font-size:12px;line-height:15px;color:#c4c4c4;left:106px;width:300px;text-align:center;">Jun</div>
<div class="t" style="top:509.5px;font-size:12px;line-height:15px;color:#c4c4c4;left:197px;width:300px;text-align:center;">Aug</div>
<div class="t" style="top:509.5px;font-size:12px;line-height:15px;color:#c4c4c4;left:281.7px;width:300px;text-align:center;">Oct</div>
<div class="t" style="top:509.5px;font-size:12px;line-height:15px;color:#c4c4c4;font-weight:700;left:429px;width:300px;text-align:center;">2024</div>
<div class="t" style="top:509.5px;font-size:12px;line-height:15px;color:#c4c4c4;left:525.5px;width:300px;text-align:center;">Mar</div>
<div class="t" style="top:509.5px;font-size:12px;line-height:15px;color:#c4c4c4;left:610.5px;width:300px;text-align:center;">Jun</div>
<div class="t" style="top:509.5px;font-size:12px;line-height:15px;color:#c4c4c4;left:724px;width:300px;text-align:center;">Aug</div>
<div class="t" style="top:509.5px;font-size:12px;line-height:15px;color:#c4c4c4;font-weight:700;left:888.5px;width:300px;text-align:center;">2025</div>
<div class="t" style="top:509.5px;font-size:12px;line-height:15px;color:#c4c4c4;left:979px;width:300px;text-align:center;">Apr</div>
<div class="t" style="top:509.5px;font-size:12px;line-height:15px;color:#c4c4c4;left:1081.5px;width:300px;text-align:center;">Jun</div>
<div class="t" style="top:509.5px;font-size:12px;line-height:15px;color:#c4c4c4;left:1194.7px;width:300px;text-align:center;">Aug</div>
<div class="t" style="top:509.5px;font-size:12px;line-height:15px;color:#c4c4c4;left:1302.5px;width:300px;text-align:center;">Oct</div>
<div class="t" style="top:509.5px;font-size:12px;line-height:15px;color:#c4c4c4;font-weight:700;left:1427px;width:300px;text-align:center;">2026</div>
<div class="t" style="top:509.5px;font-size:12px;line-height:15px;color:#c4c4c4;left:1557.5px;width:300px;text-align:center;">Mar</div>
<div class="t" style="top:762.5px;font-size:13px;line-height:16px;color:#fff;left:1135.4px;">Max</div>
<div class="t" style="top:762.5px;font-size:13px;line-height:16px;color:#fff;right:571.8px;">71.93%</div>
<div class="t" style="top:779.5px;font-size:13px;line-height:16px;color:#fff;left:1135.4px;">Current</div>
<div class="t" style="top:779.5px;font-size:13px;line-height:16px;color:#fff;right:571.8px;">−27.41%</div>
<div class="t" style="top:798.5px;font-size:13px;line-height:16px;color:#fff;left:1135.4px;">Min</div>
<div class="t" style="top:798.5px;font-size:13px;line-height:16px;color:#fff;right:571.8px;">−32.94%</div>
<div class="t" style="top:682.5px;font-size:13px;line-height:16px;color:#fff;left:1389.1px;">Max</div>
<div class="t" style="top:682.5px;font-size:13px;line-height:16px;color:#fff;right:319.70000000000005px;">1.09<span style="font-size:9px"> </span>K%</div>
<div class="t" style="top:704.5px;font-size:13px;line-height:16px;color:#fff;left:1389.1px;">Current</div>
<div class="t" style="top:704.5px;font-size:13px;line-height:16px;color:#fff;right:319.70000000000005px;">833.72%</div>
<div class="t" style="top:778.5px;font-size:13px;line-height:16px;color:#fff;left:1389.1px;">Min</div>
<div class="t" style="top:778.5px;font-size:13px;line-height:16px;color:#fff;right:319.70000000000005px;">−7.88%</div>
<div class="t" style="top:675.0px;font-size:11px;line-height:14px;color:#c4c4c4;left:1720px;">1.20<span style="font-size:7px"> </span>K%</div>
<div class="t" style="top:710.0px;font-size:11px;line-height:14px;color:#c4c4c4;left:1720px;">800.00%</div>
<div class="t" style="top:745.0px;font-size:11px;line-height:14px;color:#c4c4c4;left:1720px;">400.00%</div>
<div class="t" style="top:779.0px;font-size:11px;line-height:14px;color:#c4c4c4;left:1720px;">0.00%</div>
<div class="t" style="top:814.0px;font-size:11px;line-height:14px;color:#c4c4c4;left:1720px;">−400.00%</div>
</div>
</body></html>
